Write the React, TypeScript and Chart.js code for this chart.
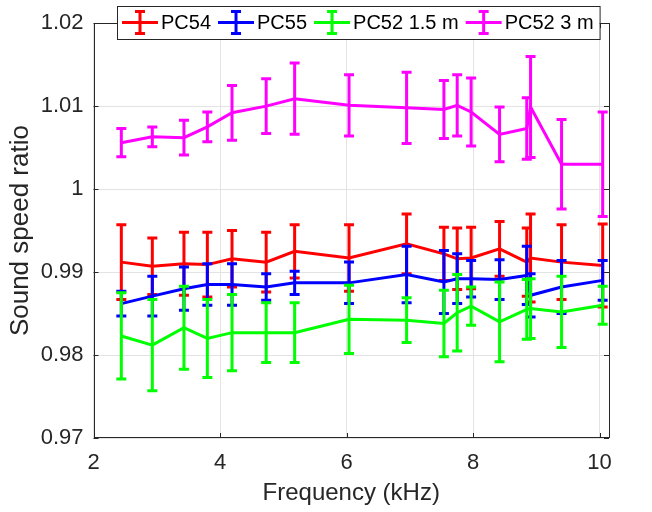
import React, { useEffect, useRef } from "react";
import { Chart, registerables } from "chart.js";

Chart.register(...registerables);

// ---- Data ----
const frequencyKHz = [2.44, 2.93, 3.43, 3.8, 4.19, 4.73, 5.18, 6.04, 6.95, 7.54, 7.75, 7.97, 8.42, 8.85, 8.91, 9.4, 10.05];

const pc54Mean = [0.9912, 0.9907, 0.991, 0.9909, 0.9916, 0.9912, 0.9925, 0.9917, 0.9934, 0.9922, 0.9916, 0.9917, 0.9928, 0.9912, 0.9917, 0.9912, 0.9908];
const pc54Err = [0.0045, 0.0034, 0.0038, 0.0039, 0.0034, 0.0036, 0.0032, 0.004, 0.0036, 0.0032, 0.0037, 0.0037, 0.0033, 0.0041, 0.0053, 0.0045, 0.005];

const pc55Mean = [0.9862, 0.9871, 0.988, 0.9885, 0.9885, 0.9882, 0.9887, 0.9887, 0.9897, 0.9888, 0.9892, 0.9892, 0.9891, 0.9896, 0.9872, 0.9882, 0.989];
const pc55Err = [0.0015, 0.0024, 0.0026, 0.0025, 0.0025, 0.0016, 0.0014, 0.0025, 0.0034, 0.0038, 0.003, 0.0022, 0.0024, 0.0035, 0.0026, 0.0032, 0.0024];

const pc52NearMean = [0.9823, 0.9812, 0.9833, 0.982, 0.9827, 0.9827, 0.9827, 0.9843, 0.9842, 0.9838, 0.9851, 0.9859, 0.984, 0.9855, 0.9856, 0.9852, 0.986];
const pc52NearErr = [0.0052, 0.0055, 0.005, 0.0047, 0.0046, 0.0036, 0.0036, 0.0041, 0.0027, 0.004, 0.0046, 0.0023, 0.0048, 0.0036, 0.0036, 0.0043, 0.0023];

const pc52FarMean = [1.0056, 1.0063, 1.0062, 1.0075, 1.0092, 1.01, 1.0109, 1.0101, 1.0098, 1.0096, 1.0101, 1.0093, 1.0066, 1.0073, 1.0099, 1.003, 1.003];
const pc52FarErr = [0.0017, 0.0012, 0.0021, 0.0018, 0.0033, 0.0033, 0.0043, 0.0037, 0.0043, 0.0035, 0.0037, 0.0041, 0.0033, 0.0037, 0.0061, 0.0054, 0.0063];

const seriesLabels = ["PC54", "PC55", "PC52 1.5 m", "PC52 3 m"];
const seriesColors = ["#ff0000", "#0000ff", "#00ff00", "#ff00ff"];

const xTickValues = [2, 4, 6, 8, 10];
const yTickValues = [0.97, 0.98, 0.99, 1, 1.01, 1.02];
const xRange = [2, 10.15];
const yRange = [0.97, 1.02];

const xAxisTitle = "Frequency (kHz)";
const yAxisTitle = "Sound speed ratio";

const FONT = '"Liberation Sans", Arial, Helvetica, sans-serif';
const INK = "#262626";

export default function App() {
  const ref = useRef<HTMLCanvasElement>(null);

  useEffect(() => {
    const canvas = ref.current;
    if (!canvas) return;
    const means = [pc54Mean, pc55Mean, pc52NearMean, pc52FarMean];
    const errs = [pc54Err, pc55Err, pc52NearErr, pc52FarErr];

    const datasets = seriesLabels.map((label, i) => ({
      label,
      data: frequencyKHz.map((f, j) => ({ x: f, y: means[i][j] })),
      borderColor: seriesColors[i],
      backgroundColor: seriesColors[i],
      borderWidth: 3,
      pointRadius: 0,
      pointHoverRadius: 0,
      tension: 0,
      fill: false,
      order: seriesLabels.length - i,
    }));

    const errorBars = {
      id: "errorBars",
      afterDatasetDraw(chart: any, args: any) {
        const i = args.index;
        const ctx = chart.ctx;
        const xs = chart.scales.x;
        const ys = chart.scales.y;
        const area = chart.chartArea;
        ctx.save();
        ctx.beginPath();
        ctx.rect(area.left, area.top, area.right - area.left, area.bottom - area.top);
        ctx.clip();
        ctx.strokeStyle = seriesColors[i];
        ctx.lineWidth = 3;
        ctx.lineCap = "butt";
        const capHalf = 5;
        frequencyKHz.forEach((f, j) => {
          const x = xs.getPixelForValue(f);
          const yl = ys.getPixelForValue(means[i][j] - errs[i][j]);
          const yh = ys.getPixelForValue(means[i][j] + errs[i][j]);
          ctx.beginPath();
          ctx.moveTo(x, yl);
          ctx.lineTo(x, yh);
          ctx.moveTo(x - capHalf, yl);
          ctx.lineTo(x + capHalf, yl);
          ctx.moveTo(x - capHalf, yh);
          ctx.lineTo(x + capHalf, yh);
          ctx.stroke();
        });
        ctx.restore();
      },
    };

    const frame = {
      id: "frame",
      beforeDatasetsDraw(chart: any) {
        const ctx = chart.ctx;
        const a = chart.chartArea;
        const xs = chart.scales.x;
        const ys = chart.scales.y;
        ctx.save();
        ctx.strokeStyle = INK;
        ctx.lineWidth = 1;
        ctx.strokeRect(Math.round(a.left) + 0.5, Math.round(a.top) + 0.5, Math.round(a.right - a.left) - 1, Math.round(a.bottom - a.top) - 1);
        const tl = 5;
        ctx.beginPath();
        xTickValues.forEach((v) => {
          const x = Math.round(xs.getPixelForValue(v)) + 0.5;
          ctx.moveTo(x, a.bottom);
          ctx.lineTo(x, a.bottom - tl);
          ctx.moveTo(x, a.top);
          ctx.lineTo(x, a.top + tl);
        });
        yTickValues.forEach((v) => {
          const y = Math.round(ys.getPixelForValue(v)) + 0.5;
          ctx.moveTo(a.left, y);
          ctx.lineTo(a.left + tl, y);
          ctx.moveTo(a.right, y);
          ctx.lineTo(a.right - tl, y);
        });
        ctx.stroke();
        ctx.restore();
      },
    };

    const legendBox = {
      id: "legendBox",
      afterDraw(chart: any) {
        const ctx = chart.ctx;
        ctx.save();
        ctx.font = `20px ${FONT}`;
        const left = 117;
        const top = 6;
        const height = 33;
        const cy = top + height / 2;
        const symW = 36;
        const pad = 5;
        const gap = 7;
        let x = left + pad;
        const items: { sx: number; tx: number }[] = [];
        seriesLabels.forEach((label, i) => {
          const tw = ctx.measureText(label).width;
          items.push({ sx: x, tx: x + symW + 3 });
          x = x + symW + 3 + tw + (i < seriesLabels.length - 1 ? gap : 0);
        });
        const right = x + pad + 1;
        ctx.fillStyle = "#ffffff";
        ctx.fillRect(left, top, right - left, height);
        ctx.strokeStyle = INK;
        ctx.lineWidth = 1;
        ctx.strokeRect(left + 0.5, top + 0.5, right - left, height);
        seriesLabels.forEach((label, i) => {
          const { sx, tx } = items[i];
          ctx.strokeStyle = seriesColors[i];
          ctx.lineWidth = 3;
          ctx.beginPath();
          ctx.moveTo(sx, cy);
          ctx.lineTo(sx + symW, cy);
          const mx = sx + symW / 2;
          ctx.moveTo(mx, cy - 11);
          ctx.lineTo(mx, cy + 11);
          ctx.moveTo(mx - 5, cy - 11);
          ctx.lineTo(mx + 5, cy - 11);
          ctx.moveTo(mx - 5, cy + 11);
          ctx.lineTo(mx + 5, cy + 11);
          ctx.stroke();
          ctx.fillStyle = "#000000";
          ctx.textBaseline = "middle";
          ctx.textAlign = "left";
          ctx.fillText(label, tx, cy + 1);
        });
        ctx.restore();
      },
    };

    const chart = new Chart(canvas, {
      type: "line",
      data: { datasets: datasets as any },
      options: {
        animation: false,
        responsive: false,
        devicePixelRatio: 1,
        events: [],
        layout: { padding: { top: 19, right: 43, left: 0, bottom: 0 } },
        plugins: { legend: { display: false }, tooltip: { enabled: false } },
        scales: {
          x: {
            type: "linear",
            min: xRange[0],
            max: xRange[1],
            afterBuildTicks: (s: any) => {
              s.ticks = xTickValues.map((v) => ({ value: v }));
            },
            afterFit: (s: any) => {
              s.height = 74;
            },
            ticks: {
              font: { family: FONT, size: 22 },
              color: INK,
              padding: 12,
              maxRotation: 0,
              autoSkip: false,
              callback: (v: any) => String(v),
            },
            grid: { color: "#e3e3e3", lineWidth: 1, drawTicks: false },
            border: { display: false },
            title: {
              display: true,
              text: xAxisTitle,
              color: INK,
              font: { family: FONT, size: 24 },
              padding: { top: 0, bottom: 4 },
            },
          },
          y: {
            type: "linear",
            min: yRange[0],
            max: yRange[1],
            afterBuildTicks: (s: any) => {
              s.ticks = yTickValues.map((v) => ({ value: v }));
            },
            afterFit: (s: any) => {
              s.width = 93.5;
            },
            ticks: {
              font: { family: FONT, size: 22 },
              color: INK,
              padding: 10,
              autoSkip: false,
              callback: (v: any) => (Math.abs(v - 1) < 1e-9 ? "1" : Number(v).toFixed(2)),
            },
            grid: { color: "#e3e3e3", lineWidth: 1, drawTicks: false },
            border: { display: false },
            title: {
              display: true,
              text: yAxisTitle,
              color: INK,
              font: { family: FONT, size: 26 },
              padding: { top: 5, bottom: 0 },
            },
          },
        },
      },
      plugins: [frame, errorBars, legendBox],
    });

    return () => chart.destroy();
  }, []);

  return (
    <div style={{ position: "fixed", left: 0, top: 0, width: 652, height: 512, background: "#ffffff" }}>
      <canvas ref={ref} width={652} height={512} style={{ display: "block" }} />
    </div>
  );
}
